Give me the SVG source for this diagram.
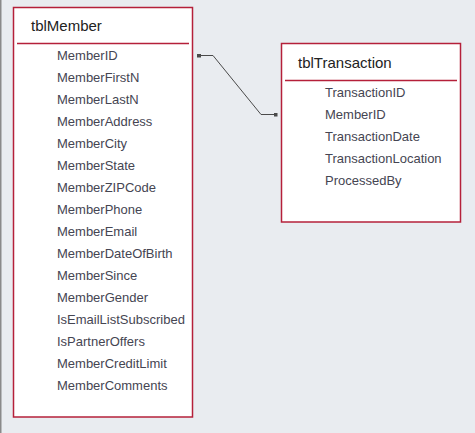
<svg xmlns="http://www.w3.org/2000/svg" width="475" height="433" viewBox="0 0 475 433">
<defs>
<style>
.box{fill:#fff;stroke:#b5203a;stroke-width:1.5}
.hl{stroke:#b5203a;stroke-width:1.5}
.title{font-family:"Liberation Sans",Arial,sans-serif;font-size:15px;fill:#222}
.f{font-family:"Liberation Sans",Arial,sans-serif;font-size:13px;fill:#454552}
.conn{fill:none;stroke:#4a4a4a;stroke-width:1}
</style>
<marker id="sq" markerWidth="4" markerHeight="4" refX="2" refY="2" markerUnits="userSpaceOnUse">
<rect x="0" y="0" width="4" height="4" fill="#4a4a4a"/>
</marker>
</defs>
<rect width="475" height="433" fill="#e9ecf0"/>
<rect x="0" y="0" width="1.5" height="433" fill="#8a8a8a"/>
<g id="connectors">
<path class="conn" d="M199,55.5 L213,55.5 L261,114.5 L275.5,114.5" marker-start="url(#sq)" marker-end="url(#sq)"/>
</g>
<g id="tblMember">
<rect class="box" x="13.5" y="7.5" width="179" height="409.5"/>
<text class="title" x="31" y="31">tblMember</text>
<line class="hl" x1="17" y1="43.5" x2="189" y2="43.5"/>
<text class="f" x="57" y="60">MemberID</text>
<text class="f" x="57" y="82">MemberFirstN</text>
<text class="f" x="57" y="104">MemberLastN</text>
<text class="f" x="57" y="126">MemberAddress</text>
<text class="f" x="57" y="148">MemberCity</text>
<text class="f" x="57" y="170">MemberState</text>
<text class="f" x="57" y="192">MemberZIPCode</text>
<text class="f" x="57" y="214">MemberPhone</text>
<text class="f" x="57" y="236">MemberEmail</text>
<text class="f" x="57" y="258">MemberDateOfBirth</text>
<text class="f" x="57" y="280">MemberSince</text>
<text class="f" x="57" y="302">MemberGender</text>
<text class="f" x="57" y="324">IsEmailListSubscribed</text>
<text class="f" x="57" y="346">IsPartnerOffers</text>
<text class="f" x="57" y="368">MemberCreditLimit</text>
<text class="f" x="57" y="390">MemberComments</text>
</g>
<g id="tblTransaction">
<rect class="box" x="281.5" y="43.5" width="179" height="178.5"/>
<text class="title" x="298" y="68">tblTransaction</text>
<line class="hl" x1="285" y1="80.5" x2="457" y2="80.5"/>
<text class="f" x="325" y="97">TransactionID</text>
<text class="f" x="325" y="119">MemberID</text>
<text class="f" x="325" y="141">TransactionDate</text>
<text class="f" x="325" y="163">TransactionLocation</text>
<text class="f" x="325" y="185">ProcessedBy</text>
</g>
</svg>
